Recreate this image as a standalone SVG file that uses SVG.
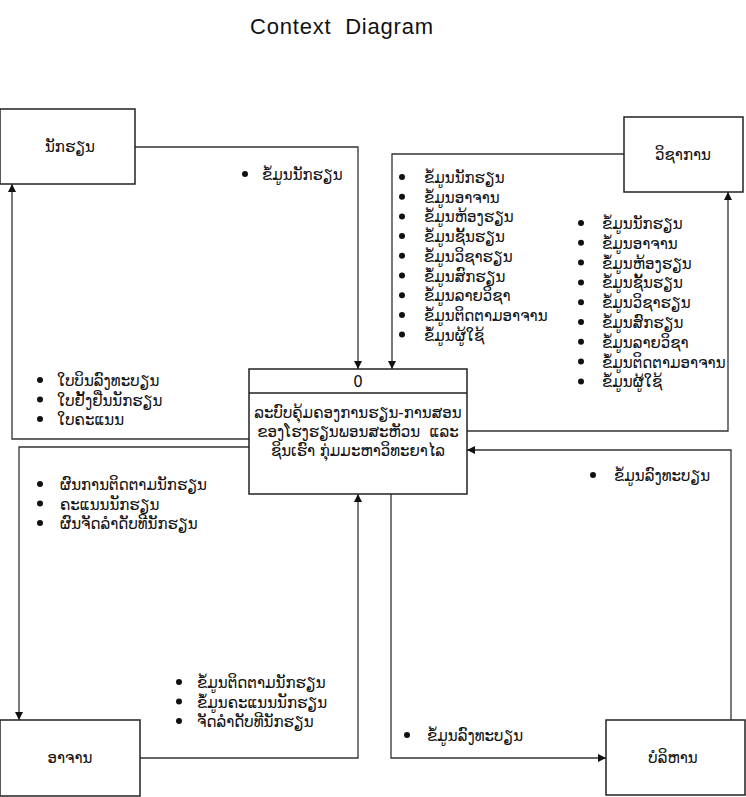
<svg xmlns="http://www.w3.org/2000/svg" width="746" height="797" viewBox="0 0 746 797">
<defs>
<marker id="ah" viewBox="0 0 10 10" refX="10" refY="5" markerWidth="8" markerHeight="8" markerUnits="userSpaceOnUse" orient="auto">
<path d="M0,0 L10,5 L0,10 z" fill="#111"/>
</marker>
<style>
.box{fill:#fff;stroke:#222;stroke-width:1.5}
.ln{fill:none;stroke:#333;stroke-width:1.3;marker-end:url(#ah)}
.lao{font-family:"DejaVu Sans","Noto Sans",sans-serif;font-size:15px;fill:#111}
.c{text-anchor:middle}
.title{font-family:"Liberation Sans",Arial,sans-serif;font-size:22px;fill:#111}
.dot{fill:#111}
</style>
<circle id="bul" r="3" class="dot"/>
</defs>
<rect width="746" height="797" fill="#fff"/>
<text class="title" x="250" y="34" textLength="183" lengthAdjust="spacing" xml:space="preserve">Context  Diagram</text>

<g id="connectors">
<path class="ln" d="M135,147 H358 V369"/>
<path class="ln" d="M249,439 H12 V184"/>
<path class="ln" d="M249,447 H19 V720"/>
<path class="ln" d="M140,758 H358 V494"/>
<path class="ln" d="M624,154 H392 V369"/>
<path class="ln" d="M467,431 H728 V192"/>
<path class="ln" d="M731,720 V450 H467"/>
<path class="ln" d="M391,494 V758 H606"/>
</g>

<g id="student">
<rect class="box" x="0" y="109" width="135" height="75"/>
<text class="lao c" x="70" y="152">ນັກຮຽນ</text>
</g>
<g id="academic">
<rect class="box" x="624" y="117" width="119" height="75"/>
<text class="lao c" x="683" y="160">ວິຊາການ</text>
</g>
<g id="teacher">
<rect class="box" x="0" y="720" width="140" height="76"/>
<text class="lao c" x="70" y="763">ອາຈານ</text>
</g>
<g id="admin">
<rect class="box" x="606" y="720" width="139" height="75"/>
<text class="lao c" x="673" y="763">ບໍລິຫານ</text>
</g>
<g id="process">
<rect class="box" x="249" y="369" width="218" height="125"/>
<line x1="249" y1="393" x2="467" y2="393" stroke="#222" stroke-width="1.5"/>
<text class="lao c" x="358" y="387">0</text>
<text class="lao c" x="358" y="418">ລະບົບຄຸ້ມຄອງການຮຽນ-ການສອນ</text>
<text class="lao c" x="358" y="437" xml:space="preserve">ຂອງໂຮງຮຽນພອນສະຫັວນ  ແລະ</text>
<text class="lao c" x="358" y="456">ຊິນເຮົາ ກຸ່ມມະຫາວິທະຍາໄລ</text>
</g>

<g id="bullets">
<use href="#bul" x="245" y="174"/>
<use href="#bul" x="402" y="177"/>
<use href="#bul" x="402" y="196.7"/>
<use href="#bul" x="402" y="216.4"/>
<use href="#bul" x="402" y="236.1"/>
<use href="#bul" x="402" y="255.8"/>
<use href="#bul" x="402" y="275.5"/>
<use href="#bul" x="402" y="295.2"/>
<use href="#bul" x="402" y="314.9"/>
<use href="#bul" x="402" y="334.6"/>
<use href="#bul" x="581" y="223"/>
<use href="#bul" x="581" y="242.8"/>
<use href="#bul" x="581" y="262.6"/>
<use href="#bul" x="581" y="282.4"/>
<use href="#bul" x="581" y="302.2"/>
<use href="#bul" x="581" y="322"/>
<use href="#bul" x="581" y="341.8"/>
<use href="#bul" x="581" y="361.6"/>
<use href="#bul" x="581" y="381.4"/>
<use href="#bul" x="40" y="380"/>
<use href="#bul" x="40" y="399.5"/>
<use href="#bul" x="40" y="419"/>
<use href="#bul" x="40" y="484"/>
<use href="#bul" x="40" y="503.5"/>
<use href="#bul" x="40" y="523"/>
<use href="#bul" x="179" y="682"/>
<use href="#bul" x="179" y="701.5"/>
<use href="#bul" x="179" y="721"/>
<use href="#bul" x="593" y="475"/>
<use href="#bul" x="407" y="735"/>
</g>

<g id="labels" class="lao">
<text x="262" y="180">ຂໍ້ມູນນັກຮຽນ</text>

<text x="424" y="183">ຂໍ້ມູນນັກຮຽນ</text>
<text x="424" y="202.7">ຂໍ້ມູນອາຈານ</text>
<text x="424" y="222.4">ຂໍ້ມູນຫ້ອງຮຽນ</text>
<text x="424" y="242.1">ຂໍ້ມູນຊັ້ນຮຽນ</text>
<text x="424" y="261.8">ຂໍ້ມູນວິຊາຮຽນ</text>
<text x="424" y="281.5">ຂໍ້ມູນສົກຮຽນ</text>
<text x="424" y="301.2">ຂໍ້ມູນລາຍວິຊາ</text>
<text x="424" y="320.9">ຂໍ້ມູນຕິດຕາມອາຈານ</text>
<text x="424" y="340.6">ຂໍ້ມູນຜູ້ໃຊ້</text>

<text x="602" y="229">ຂໍ້ມູນນັກຮຽນ</text>
<text x="602" y="248.8">ຂໍ້ມູນອາຈານ</text>
<text x="602" y="268.6">ຂໍ້ມູນຫ້ອງຮຽນ</text>
<text x="602" y="288.4">ຂໍ້ມູນຊັ້ນຮຽນ</text>
<text x="602" y="308.2">ຂໍ້ມູນວິຊາຮຽນ</text>
<text x="602" y="328">ຂໍ້ມູນສົກຮຽນ</text>
<text x="602" y="347.8">ຂໍ້ມູນລາຍວິຊາ</text>
<text x="602" y="367.6">ຂໍ້ມູນຕິດຕາມອາຈານ</text>
<text x="602" y="387.4">ຂໍ້ມູນຜູ້ໃຊ້</text>

<text x="57" y="386">ໃບບິນລົງທະບຽນ</text>
<text x="57" y="405.5">ໃບຢັ້ງຢືນນັກຮຽນ</text>
<text x="57" y="425">ໃບຄະແນນ</text>

<text x="60" y="490">ຜົນການຕິດຕາມນັກຮຽນ</text>
<text x="60" y="509.5">ຄະແນນນັກຮຽນ</text>
<text x="60" y="529">ຜົນຈັດລຳດັບທີນັກຮຽນ</text>

<text x="197" y="688">ຂໍ້ມູນຕິດຕາມນັກຮຽນ</text>
<text x="197" y="707.5">ຂໍ້ມູນຄະແນນນັກຮຽນ</text>
<text x="197" y="727">ຈັດລຳດັບທີນັກຮຽນ</text>

<text x="614" y="481">ຂໍ້ມູນລົງທະບຽນ</text>
<text x="427" y="741">ຂໍ້ມູນລົງທະບຽນ</text>
</g>
</svg>
